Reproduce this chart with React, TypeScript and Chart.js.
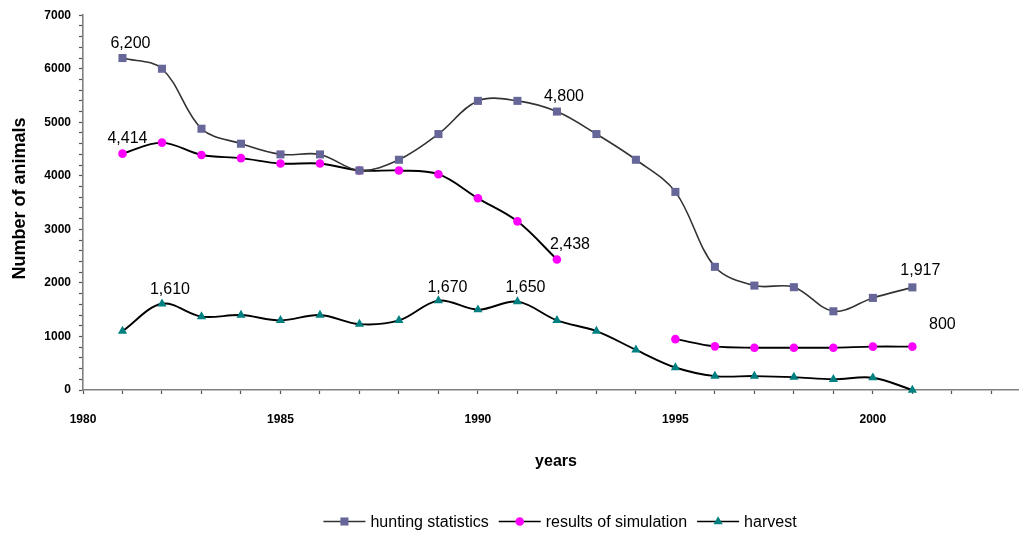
import { useEffect, useRef } from 'react';
import { Chart, registerables } from 'chart.js';

Chart.register(...registerables);

const years = [1981, 1982, 1983, 1984, 1985, 1986, 1987, 1988, 1989, 1990, 1991, 1992, 1993, 1994, 1995, 1996, 1997, 1998, 1999, 2000, 2001];
const huntingStatistics = [6200, 6000, 4880, 4600, 4400, 4400, 4100, 4300, 4780, 5400, 5400, 5200, 4780, 4300, 3700, 2300, 1950, 1920, 1470, 1720, 1917];
const resultsOfSimulation = [4414, 4620, 4390, 4330, 4230, 4230, 4100, 4100, 4030, 3580, 3150, 2438, null, null, 950, 815, 790, 790, 790, 810, 810];
const harvest = [1100, 1610, 1370, 1400, 1300, 1400, 1230, 1300, 1670, 1500, 1650, 1300, 1100, 750, 420, 260, 260, 240, 200, 230, 0];

const seriesNames = ['hunting statistics', 'results of simulation', 'harvest'];
const xTickLabels = [1980, 1985, 1990, 1995, 2000];
const yTickLabels = [0, 1000, 2000, 3000, 4000, 5000, 6000, 7000];
const xTitle = 'years';
const yTitle = 'Number of animals';

const pointLabels = [
  { series: 0, year: 1981, text: '6,200' },
  { series: 0, year: 1992, text: '4,800' },
  { series: 0, year: 2001, text: '1,917' },
  { series: 1, year: 1981, text: '4,414' },
  { series: 1, year: 1992, text: '2,438' },
  { series: 1, year: 2001, text: '800' },
  { series: 2, year: 1982, text: '1,610' },
  { series: 2, year: 1989, text: '1,670' },
  { series: 2, year: 1991, text: '1,650' },
];

const FONT = "'Liberation Sans', Arial, sans-serif";

const labelOffsets: Record<string, [number, number]> = {
  '6,200': [8, -14],
  '4,800': [7, -15],
  '1,917': [8, -17],
  '4,414': [5, -15],
  '2,438': [13, -15],
  '800': [30, -22],
  '1,610': [8, -14],
  '1,670': [9, -13],
  '1,650': [8, -14],
};

function toPoints(values: (number | null)[]) {
  return years.map((x, i) => ({ x, y: values[i] }));
}

function drawMarker(ctx: CanvasRenderingContext2D, style: string, x: number, y: number, r: number, color: string) {
  ctx.save();
  ctx.fillStyle = color;
  ctx.beginPath();
  if (style === 'rect') {
    const s = Math.SQRT1_2 * r;
    ctx.rect(x - s, y - s, 2 * s, 2 * s);
  } else if (style === 'circle') {
    ctx.arc(x, y, r, 0, Math.PI * 2);
  } else {
    const w = r * Math.sqrt(3) / 2;
    ctx.moveTo(x, y - r);
    ctx.lineTo(x + w, y + r / 2);
    ctx.lineTo(x - w, y + r / 2);
    ctx.closePath();
  }
  ctx.fill();
  ctx.restore();
}

const annotationPlugin = {
  id: 'annotations',
  afterDatasetsDraw(chart: any) {
    const ctx: CanvasRenderingContext2D = chart.ctx;
    ctx.save();
    ctx.font = `16px ${FONT}`;
    ctx.fillStyle = '#000';
    ctx.textAlign = 'center';
    ctx.textBaseline = 'middle';
    pointLabels.forEach((lab) => {
      const meta = chart.getDatasetMeta(lab.series);
      const idx = years.indexOf(lab.year);
      const el = meta.data[idx];
      if (!el) return;
      const [dx, dy] = labelOffsets[lab.text] || [8, -14];
      ctx.fillText(lab.text, el.x + dx, el.y + dy);
    });
    ctx.restore();
  },
  afterDraw(chart: any) {
    const ctx: CanvasRenderingContext2D = chart.ctx;
    const area = chart.chartArea;
    ctx.save();
    ctx.fillStyle = '#000';
    // x title
    ctx.font = `bold 16px ${FONT}`;
    ctx.textAlign = 'center';
    ctx.textBaseline = 'alphabetic';
    ctx.fillText(xTitle, 556, 466);
    // y title
    ctx.save();
    ctx.font = `bold 18px ${FONT}`;
    ctx.translate(20, (area.top + area.bottom) / 2 - 4);
    ctx.rotate(-Math.PI / 2);
    ctx.textBaseline = 'middle';
    ctx.fillText(yTitle, 0, 0);
    ctx.restore();
    // legend
    ctx.font = `16px ${FONT}`;
    ctx.textBaseline = 'middle';
    ctx.textAlign = 'left';
    const lineLen = 42;
    const gapText = 5;
    const gapItem = 10;
    const ly = 521.5;
    const widths = seriesNames.map((n) => ctx.measureText(n).width);
    const total = widths.reduce((a, w) => a + lineLen + gapText + w, 0) + gapItem * (seriesNames.length - 1);
    let x = 560 - total / 2;
    chart.data.datasets.forEach((ds: any, i: number) => {
      ctx.strokeStyle = ds.borderColor;
      ctx.lineWidth = 1.5;
      ctx.beginPath();
      ctx.moveTo(x, ly);
      ctx.lineTo(x + lineLen, ly);
      ctx.stroke();
      drawMarker(ctx, ds.pointStyle, x + lineLen / 2, ly, ds.pointRadius, ds.pointBackgroundColor);
      ctx.fillStyle = '#000';
      ctx.fillText(seriesNames[i], x + lineLen + gapText, ly + 1);
      x += lineLen + gapText + widths[i] + gapItem;
    });
    ctx.restore();
  },
};

export default function App() {
  const ref = useRef<HTMLCanvasElement | null>(null);

  useEffect(() => {
    document.body.style.margin = '0';
    const canvas = ref.current;
    if (!canvas) return;
    const xTicksAll: number[] = [];
    for (let y = xTickLabels[0]; y <= 2003; y++) xTicksAll.push(y);

    const chart = new Chart(canvas, {
      type: 'line',
      data: {
        datasets: [
          {
            label: seriesNames[0],
            data: toPoints(huntingStatistics),
            borderColor: '#333333',
            borderWidth: 1.6,
            pointStyle: 'rect',
            pointRadius: 5.7,
            pointHoverRadius: 5.7,
            pointBackgroundColor: '#666699',
            pointBorderColor: '#666699',
            pointBorderWidth: 0,
            tension: 0.35,
            clip: false,
          } as any,
          {
            label: seriesNames[1],
            data: toPoints(resultsOfSimulation),
            borderColor: '#000000',
            borderWidth: 1.9,
            pointStyle: 'circle',
            pointRadius: 4.3,
            pointHoverRadius: 4.3,
            pointBackgroundColor: '#FF00FF',
            pointBorderColor: '#FF00FF',
            pointBorderWidth: 0,
            tension: 0.35,
            spanGaps: false,
            clip: false,
          } as any,
          {
            label: seriesNames[2],
            data: toPoints(harvest),
            borderColor: '#000000',
            borderWidth: 1.9,
            pointStyle: 'triangle',
            pointRadius: 5.3,
            pointHoverRadius: 5.3,
            pointBackgroundColor: '#008080',
            pointBorderColor: '#008080',
            pointBorderWidth: 0,
            tension: 0.35,
            clip: false,
          } as any,
        ],
      },
      options: {
        responsive: false,
        animation: false,
        events: [],
        layout: { autoPadding: false, padding: { top: 15, right: 0, left: 0, bottom: 0 } },
        plugins: {
          legend: { display: false },
          tooltip: { enabled: false },
          title: { display: false },
        },
        scales: {
          x: {
            type: 'linear',
            min: 1980,
            max: 2003.7,
            afterBuildTicks: (scale: any) => {
              scale.ticks = xTicksAll.map((v) => ({ value: v }));
            },
            afterFit: (scale: any) => {
              scale.height = 143;
            },
            grid: {
              display: true,
              drawOnChartArea: false,
              drawTicks: true,
              tickLength: 4,
              color: '#808080',
              tickColor: '#555555',
              tickWidth: 1.2,
            },
            border: { display: true, color: '#808080', width: 1.6 },
            ticks: {
              autoSkip: false,
              maxRotation: 0,
              padding: 18,
              color: '#000',
              font: { family: FONT, size: 12, weight: 'bold' },
              callback: (v: any) => (xTickLabels.includes(Number(v)) ? String(v) : ''),
            },
          },
          y: {
            type: 'linear',
            min: 0,
            max: 7000,
            afterFit: (scale: any) => {
              scale.width = 83;
            },
            grid: {
              display: true,
              drawOnChartArea: false,
              drawTicks: true,
              tickLength: 4,
              color: '#808080',
              tickColor: '#555555',
              tickWidth: 1.2,
            },
            border: { display: true, color: '#808080', width: 1.6 },
            ticks: {
              stepSize: 200,
              autoSkip: false,
              padding: 8,
              color: '#000',
              font: { family: FONT, size: 12, weight: 'bold' },
              callback: (v: any) => (yTickLabels.includes(Number(v)) ? String(v) : ''),
            },
          },
        },
      } as any,
      plugins: [annotationPlugin],
    });
    return () => chart.destroy();
  }, []);

  return (
    <div style={{ width: 1019, height: 533 }}>
      <canvas ref={ref} width={1019} height={533} style={{ display: 'block', width: 1019, height: 533 }} />
    </div>
  );
}
